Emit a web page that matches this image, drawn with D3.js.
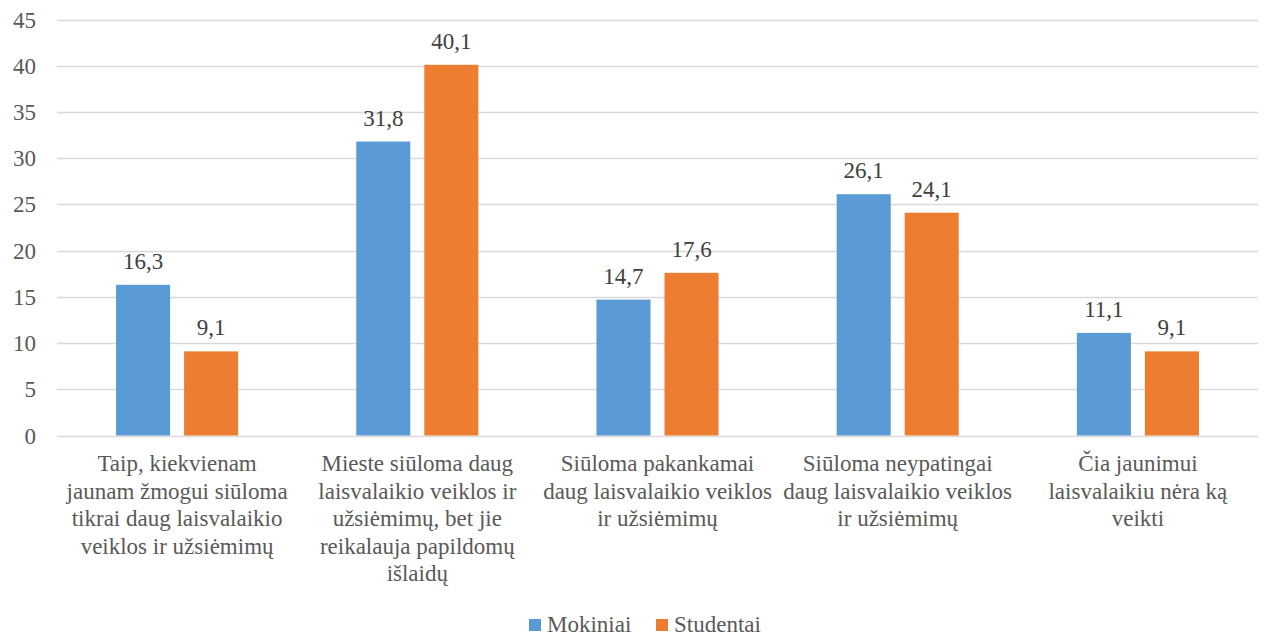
<!DOCTYPE html>
<html>
<head>
<meta charset="utf-8">
<script src="https://cdn.jsdelivr.net/npm/d3@7"></script>
<style>
  body { margin: 0; background: #fff; }
</style>
</head>
<body>
<svg width="1264" height="637"></svg>
<script>
const width = 1264;
const height = 637;
const font = "'Liberation Serif', monospace";

// category labels, wrapped as in the original
const categories = [
    ["Taip, kiekvienam", "jaunam žmogui siūloma", "tikrai daug laisvalaikio", "veiklos ir užsiėmimų"],
    ["Mieste siūloma daug", "laisvalaikio veiklos ir", "užsiėmimų, bet jie", "reikalauja papildomų", "išlaidų"],
    ["Siūloma pakankamai", "daug laisvalaikio veiklos", "ir užsiėmimų"],
    ["Siūloma neypatingai", "daug laisvalaikio veiklos", "ir užsiėmimų"],
    ["Čia jaunimui", "laisvalaikiu nėra ką", "veikti"]
];
const seriesNames = ["Mokiniai", "Studentai"];
const mokiniai = [16.3, 31.8, 14.7, 26.1, 11.1];
const studentai = [9.1, 40.1, 17.6, 24.1, 9.1];
const colors = ["#5b9bd5", "#ed7d31"];
const yTicks = [0, 5, 10, 15, 20, 25, 30, 35, 40, 45];

const margin = { left: 57, right: 6, top: 19.5, bottom: 201.5 };

const svg = d3.select("svg");

const x0 = d3.scaleBand()
    .domain(d3.range(categories.length))
    .range([margin.left, width - margin.right]);

const y = d3.scaleLinear()
    .domain([0, 45])
    .range([height - margin.bottom, margin.top]);

const barW = x0.bandwidth() * 0.225;
const gap = 14;

// gridlines
svg.append("g")
    .selectAll("line")
    .data(yTicks)
    .join("line")
    .attr("x1", margin.left)
    .attr("x2", width - margin.right)
    .attr("y1", d => Math.round(y(d)) + 0.5)
    .attr("y2", d => Math.round(y(d)) + 0.5)
    .attr("stroke", "#d9d9d9")
    .attr("stroke-width", 1.3);

// y tick labels
svg.append("g")
    .selectAll("text")
    .data(yTicks)
    .join("text")
    .attr("x", 36)
    .attr("y", d => y(d) + 8)
    .attr("text-anchor", "end")
    .attr("font-family", font)
    .attr("font-size", 23)
    .attr("fill", "#595959")
    .text(d => d);

const series = [mokiniai, studentai];

series.forEach((vals, si) => {
    const g = svg.append("g");
    const xPos = i => x0(i) + x0.bandwidth() / 2 + (si === 0 ? -gap / 2 - barW : gap / 2);

    g.selectAll("rect")
        .data(vals)
        .join("rect")
        .attr("x", (d, i) => xPos(i))
        .attr("y", d => y(d))
        .attr("width", barW)
        .attr("height", d => y(0) - y(d))
        .attr("fill", colors[si]);

    g.selectAll("text")
        .data(vals)
        .join("text")
        .attr("x", (d, i) => xPos(i) + barW / 2)
        .attr("y", d => y(d) - 16)
        .attr("text-anchor", "middle")
        .attr("font-family", font)
        .attr("font-size", 23)
        .attr("fill", "#404040")
        .text(d => d.toFixed(1).replace(".", ","));
});

// category labels, one text per line
categories.forEach((lines, ci) => {
    svg.append("g")
        .selectAll("text")
        .data(lines)
        .join("text")
        .attr("x", x0(ci) + x0.bandwidth() / 2)
        .attr("y", (d, i) => 471 + i * 27.6)
        .attr("text-anchor", "middle")
        .attr("font-family", font)
        .attr("font-size", 23)
        .attr("fill", "#595959")
        .text(d => d);
});

// legend
const legend = svg.append("g");
const legendX = [529, 656];
seriesNames.forEach((name, i) => {
    legend.append("rect")
        .attr("x", legendX[i])
        .attr("y", 619)
        .attr("width", 12)
        .attr("height", 12)
        .attr("fill", colors[i]);
    legend.append("text")
        .attr("x", legendX[i] + 18)
        .attr("y", 632)
        .attr("font-family", font)
        .attr("font-size", 23)
        .attr("fill", "#595959")
        .text(name);
});
</script>
</body>
</html>
